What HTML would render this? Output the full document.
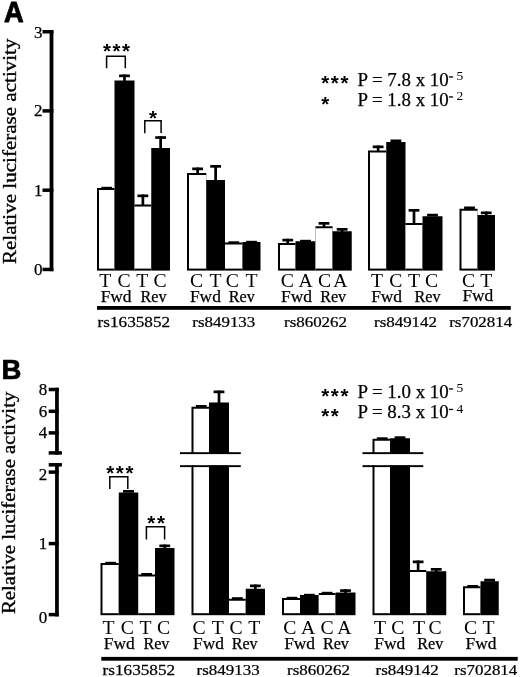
<!DOCTYPE html>
<html><head><meta charset="utf-8"><title>Figure</title>
<style>html,body{margin:0;padding:0;background:#fff}svg{display:block;will-change:transform}text{fill:#000}.se{font-family:"Liberation Serif",serif}.sa{font-family:"Liberation Sans",sans-serif}.bd{stroke:#000;stroke-width:0.25px}</style></head><body>
<svg width="520" height="677" viewBox="0 0 520 677">
<defs><filter id="soft" x="0" y="0" width="520" height="677" filterUnits="userSpaceOnUse"><feGaussianBlur stdDeviation="0.45"/></filter></defs>
<rect width="520" height="677" fill="#fff"/>
<g filter="url(#soft)">
<rect width="520" height="677" fill="#fff"/>
<text class="sa" font-weight="bold" font-size="29.3" stroke="#000" stroke-width="0.9" stroke-linejoin="round" transform="translate(3.9 22.1) scale(0.93 1)">A</text>
<text class="sa" font-weight="bold" font-size="27.5" stroke="#000" stroke-width="0.7" stroke-linejoin="round" transform="translate(1.4 379.0) scale(1.0 1)">B</text>
<text class="se" font-size="19.4" text-anchor="middle" transform="translate(16.0 151.3) rotate(-90) scale(1.085 1)" stroke="#000" stroke-width="0.35">Relative luciferase activity</text>
<text class="se" font-size="19.4" text-anchor="middle" transform="translate(14.8 502.9) rotate(-90) scale(1.07 1)" stroke="#000" stroke-width="0.35">Relative luciferase activity</text>
<rect x="49.6" y="30" width="3.8" height="241.2" fill="#000"/>
<rect x="42.5" y="30.00" width="10.9" height="3.5" fill="#000"/>
<text x="42.4" y="38.15" class="se bd" font-size="17" text-anchor="end">3</text>
<rect x="42.5" y="109.15" width="10.9" height="3.5" fill="#000"/>
<text x="42.4" y="115.70" class="se bd" font-size="17" text-anchor="end">2</text>
<rect x="42.5" y="188.45" width="10.9" height="3.5" fill="#000"/>
<text x="42.4" y="195.80" class="se bd" font-size="17" text-anchor="end">1</text>
<rect x="42.5" y="267.70" width="10.9" height="3.5" fill="#000"/>
<text x="42.4" y="275.05" class="se bd" font-size="17" text-anchor="end">0</text>
<rect x="97.00" y="188.00" width="17.50" height="82.60" fill="#000"/>
<rect x="99.00" y="190.00" width="15.50" height="78.60" fill="#fff"/>
<rect x="114.50" y="80.50" width="20.00" height="190.10" fill="#000"/>
<rect x="134.50" y="204.50" width="16.75" height="66.10" fill="#000"/>
<rect x="134.50" y="206.50" width="16.75" height="62.10" fill="#fff"/>
<rect x="151.25" y="148.00" width="18.75" height="122.60" fill="#000"/>
<rect x="101.35" y="186.80" width="10.8" height="2.7" fill="#000"/>
<rect x="119.10" y="74.50" width="10.8" height="2.7" fill="#000"/>
<rect x="123.15" y="74.50" width="2.7" height="7.00" fill="#000"/>
<rect x="137.47" y="194.50" width="10.8" height="2.7" fill="#000"/>
<rect x="141.53" y="194.50" width="2.7" height="11.00" fill="#000"/>
<rect x="155.22" y="136.20" width="10.8" height="2.7" fill="#000"/>
<rect x="159.28" y="136.20" width="2.7" height="12.80" fill="#000"/>
<rect x="187.00" y="173.00" width="19.25" height="97.60" fill="#000"/>
<rect x="189.00" y="175.00" width="17.25" height="93.60" fill="#fff"/>
<rect x="206.25" y="180.00" width="18.75" height="90.60" fill="#000"/>
<rect x="225.00" y="242.50" width="17.50" height="28.10" fill="#000"/>
<rect x="225.00" y="244.50" width="17.50" height="24.10" fill="#fff"/>
<rect x="242.50" y="242.00" width="18.00" height="28.60" fill="#000"/>
<rect x="192.22" y="167.50" width="10.8" height="2.7" fill="#000"/>
<rect x="196.28" y="167.50" width="2.7" height="6.50" fill="#000"/>
<rect x="210.22" y="165.00" width="10.8" height="2.7" fill="#000"/>
<rect x="214.28" y="165.00" width="2.7" height="16.00" fill="#000"/>
<rect x="228.35" y="241.30" width="10.8" height="2.7" fill="#000"/>
<rect x="246.10" y="240.80" width="10.8" height="2.7" fill="#000"/>
<rect x="278.00" y="243.00" width="17.50" height="27.60" fill="#000"/>
<rect x="280.00" y="245.00" width="15.50" height="23.60" fill="#fff"/>
<rect x="295.50" y="241.25" width="20.00" height="29.35" fill="#000"/>
<rect x="315.50" y="226.25" width="17.00" height="44.35" fill="#000"/>
<rect x="315.50" y="228.25" width="17.00" height="40.35" fill="#fff"/>
<rect x="332.50" y="231.25" width="19.25" height="39.35" fill="#000"/>
<rect x="282.35" y="238.75" width="10.8" height="2.7" fill="#000"/>
<rect x="286.40" y="238.75" width="2.7" height="5.25" fill="#000"/>
<rect x="300.10" y="239.80" width="10.8" height="2.7" fill="#000"/>
<rect x="318.60" y="222.00" width="10.8" height="2.7" fill="#000"/>
<rect x="322.65" y="222.00" width="2.7" height="5.25" fill="#000"/>
<rect x="336.73" y="228.00" width="10.8" height="2.7" fill="#000"/>
<rect x="340.77" y="228.00" width="2.7" height="4.25" fill="#000"/>
<rect x="368.00" y="150.50" width="18.25" height="120.10" fill="#000"/>
<rect x="370.00" y="152.50" width="16.25" height="116.10" fill="#fff"/>
<rect x="386.25" y="142.00" width="19.25" height="128.60" fill="#000"/>
<rect x="405.50" y="223.00" width="17.00" height="47.60" fill="#000"/>
<rect x="405.50" y="225.00" width="17.00" height="43.60" fill="#fff"/>
<rect x="422.50" y="216.25" width="20.00" height="54.35" fill="#000"/>
<rect x="372.73" y="145.50" width="10.8" height="2.7" fill="#000"/>
<rect x="376.77" y="145.50" width="2.7" height="6.00" fill="#000"/>
<rect x="390.48" y="139.50" width="10.8" height="2.7" fill="#000"/>
<rect x="408.60" y="209.00" width="10.8" height="2.7" fill="#000"/>
<rect x="412.65" y="209.00" width="2.7" height="15.00" fill="#000"/>
<rect x="427.10" y="213.75" width="10.8" height="2.7" fill="#000"/>
<rect x="459.50" y="208.75" width="18.00" height="61.85" fill="#000"/>
<rect x="461.50" y="210.75" width="16.00" height="57.85" fill="#fff"/>
<rect x="477.50" y="215.00" width="17.50" height="55.60" fill="#000"/>
<rect x="464.10" y="206.50" width="10.8" height="2.7" fill="#000"/>
<rect x="480.85" y="211.50" width="10.8" height="2.7" fill="#000"/>
<rect x="484.90" y="211.50" width="2.7" height="4.50" fill="#000"/>
<rect x="55.1" y="387.8" width="3.7" height="66.8" fill="#000"/>
<rect x="55.1" y="463.1" width="3.7" height="153.3" fill="#000"/>
<rect x="48.7" y="387.75" width="10.1" height="3.5" fill="#000"/>
<text x="47.3" y="394.90" class="se bd" font-size="17" text-anchor="end">8</text>
<rect x="48.7" y="409.55" width="10.1" height="3.5" fill="#000"/>
<text x="47.3" y="416.70" class="se bd" font-size="17" text-anchor="end">6</text>
<rect x="48.7" y="431.15" width="10.1" height="3.5" fill="#000"/>
<text x="47.3" y="438.40" class="se bd" font-size="17" text-anchor="end">4</text>
<rect x="48.7" y="470.35" width="10.1" height="3.5" fill="#000"/>
<text x="47.3" y="479.60" class="se bd" font-size="17" text-anchor="end">2</text>
<rect x="48.7" y="541.85" width="10.1" height="3.5" fill="#000"/>
<text x="47.3" y="548.80" class="se bd" font-size="17" text-anchor="end">1</text>
<rect x="48.7" y="612.85" width="10.1" height="3.5" fill="#000"/>
<text x="47.3" y="622.70" class="se bd" font-size="17" text-anchor="end">0</text>
<rect x="48.7" y="451.15" width="13.2" height="3.5" fill="#000"/>
<rect x="48.7" y="463.05" width="13.2" height="3.5" fill="#000"/>
<rect x="100.50" y="563.00" width="18.25" height="52.20" fill="#000"/>
<rect x="102.50" y="565.00" width="16.25" height="48.20" fill="#fff"/>
<rect x="118.75" y="492.50" width="19.50" height="122.70" fill="#000"/>
<rect x="138.25" y="574.50" width="16.75" height="40.70" fill="#000"/>
<rect x="138.25" y="576.50" width="16.75" height="36.70" fill="#fff"/>
<rect x="155.00" y="548.00" width="19.50" height="67.20" fill="#000"/>
<rect x="105.22" y="561.80" width="10.8" height="2.7" fill="#000"/>
<rect x="123.10" y="490.00" width="10.8" height="2.7" fill="#000"/>
<rect x="141.22" y="573.00" width="10.8" height="2.7" fill="#000"/>
<rect x="159.35" y="544.50" width="10.8" height="2.7" fill="#000"/>
<rect x="163.40" y="544.50" width="2.7" height="4.50" fill="#000"/>
<rect x="191.50" y="406.75" width="17.50" height="208.45" fill="#000"/>
<rect x="193.50" y="408.75" width="15.50" height="204.45" fill="#fff"/>
<rect x="209.00" y="402.50" width="20.00" height="212.70" fill="#000"/>
<rect x="229.00" y="598.75" width="16.75" height="16.45" fill="#000"/>
<rect x="229.00" y="600.75" width="16.75" height="12.45" fill="#fff"/>
<rect x="245.75" y="588.75" width="19.25" height="26.45" fill="#000"/>
<rect x="195.85" y="405.00" width="10.8" height="2.7" fill="#000"/>
<rect x="213.60" y="390.50" width="10.8" height="2.7" fill="#000"/>
<rect x="217.65" y="390.50" width="2.7" height="13.00" fill="#000"/>
<rect x="231.97" y="597.20" width="10.8" height="2.7" fill="#000"/>
<rect x="249.97" y="584.50" width="10.8" height="2.7" fill="#000"/>
<rect x="254.03" y="584.50" width="2.7" height="5.25" fill="#000"/>
<rect x="282.00" y="598.00" width="18.00" height="17.20" fill="#000"/>
<rect x="284.00" y="600.00" width="16.00" height="13.20" fill="#fff"/>
<rect x="300.00" y="595.00" width="18.75" height="20.20" fill="#000"/>
<rect x="318.75" y="593.00" width="16.75" height="22.20" fill="#000"/>
<rect x="318.75" y="595.00" width="16.75" height="18.20" fill="#fff"/>
<rect x="335.50" y="592.50" width="20.00" height="22.70" fill="#000"/>
<rect x="286.60" y="596.80" width="10.8" height="2.7" fill="#000"/>
<rect x="303.98" y="593.80" width="10.8" height="2.7" fill="#000"/>
<rect x="321.73" y="591.80" width="10.8" height="2.7" fill="#000"/>
<rect x="340.10" y="589.25" width="10.8" height="2.7" fill="#000"/>
<rect x="344.15" y="589.25" width="2.7" height="4.25" fill="#000"/>
<rect x="372.50" y="438.75" width="17.50" height="176.45" fill="#000"/>
<rect x="374.50" y="440.75" width="15.50" height="172.45" fill="#fff"/>
<rect x="390.00" y="438.25" width="20.00" height="176.95" fill="#000"/>
<rect x="410.00" y="570.00" width="16.25" height="45.20" fill="#000"/>
<rect x="410.00" y="572.00" width="16.25" height="41.20" fill="#fff"/>
<rect x="426.25" y="571.25" width="20.00" height="43.95" fill="#000"/>
<rect x="376.85" y="437.30" width="10.8" height="2.7" fill="#000"/>
<rect x="394.60" y="436.25" width="10.8" height="2.7" fill="#000"/>
<rect x="412.73" y="560.50" width="10.8" height="2.7" fill="#000"/>
<rect x="416.77" y="560.50" width="2.7" height="10.50" fill="#000"/>
<rect x="430.85" y="568.00" width="10.8" height="2.7" fill="#000"/>
<rect x="434.90" y="568.00" width="2.7" height="4.25" fill="#000"/>
<rect x="463.00" y="586.25" width="17.50" height="28.95" fill="#000"/>
<rect x="465.00" y="588.25" width="15.50" height="24.95" fill="#fff"/>
<rect x="480.50" y="581.25" width="18.25" height="33.95" fill="#000"/>
<rect x="467.35" y="585.00" width="10.8" height="2.7" fill="#000"/>
<rect x="484.23" y="578.75" width="10.8" height="2.7" fill="#000"/>
<rect x="180" y="454" width="60.80" height="11.4" fill="#fff"/>
<rect x="180" y="452.2" width="60.80" height="1.9" fill="#000"/>
<rect x="180" y="465.2" width="60.80" height="1.9" fill="#000"/>
<rect x="362.5" y="454" width="60.80" height="11.4" fill="#fff"/>
<rect x="362.5" y="452.2" width="60.80" height="1.9" fill="#000"/>
<rect x="362.5" y="465.2" width="60.80" height="1.9" fill="#000"/>
<text class="se" font-size="18.1" text-anchor="middle" transform="translate(105.25 286.6) scale(1.09 1)">T</text>
<text class="se" font-size="18.1" text-anchor="middle" transform="translate(124.00 286.6) scale(1.09 1)">C</text>
<text class="se" font-size="18.1" text-anchor="middle" transform="translate(142.38 286.6) scale(1.09 1)">T</text>
<text class="se" font-size="18.1" text-anchor="middle" transform="translate(160.12 286.6) scale(1.09 1)">C</text>
<text x="116.10" y="301.9" class="se bd" font-size="17.4" text-anchor="middle">Fwd</text>
<text x="153.60" y="301.9" class="se bd" font-size="17.2" text-anchor="middle" textLength="26" lengthAdjust="spacingAndGlyphs">Rev</text>
<text class="se" font-size="18.1" text-anchor="middle" transform="translate(196.62 286.6) scale(1.09 1)">C</text>
<text class="se" font-size="18.1" text-anchor="middle" transform="translate(215.62 286.6) scale(1.09 1)">T</text>
<text class="se" font-size="18.1" text-anchor="middle" transform="translate(232.25 286.6) scale(1.09 1)">C</text>
<text class="se" font-size="18.1" text-anchor="middle" transform="translate(251.50 286.6) scale(1.09 1)">T</text>
<text x="205.40" y="301.9" class="se bd" font-size="17.4" text-anchor="middle">Fwd</text>
<text x="241.85" y="301.9" class="se bd" font-size="17.2" text-anchor="middle" textLength="26" lengthAdjust="spacingAndGlyphs">Rev</text>
<text class="se" font-size="18.1" text-anchor="middle" transform="translate(287.45 286.6) scale(1.09 1)">C</text>
<text class="se" font-size="18.1" text-anchor="middle" transform="translate(305.50 286.6) scale(1.09 1)">A</text>
<text class="se" font-size="18.1" text-anchor="middle" transform="translate(324.70 286.6) scale(1.09 1)">C</text>
<text class="se" font-size="18.1" text-anchor="middle" transform="translate(340.43 286.6) scale(1.09 1)">A</text>
<text x="296.50" y="301.9" class="se bd" font-size="17.4" text-anchor="middle">Fwd</text>
<text x="333.15" y="301.9" class="se bd" font-size="17.2" text-anchor="middle" textLength="26" lengthAdjust="spacingAndGlyphs">Rev</text>
<text class="se" font-size="18.1" text-anchor="middle" transform="translate(377.12 286.6) scale(1.09 1)">T</text>
<text class="se" font-size="18.1" text-anchor="middle" transform="translate(395.88 286.6) scale(1.09 1)">C</text>
<text class="se" font-size="18.1" text-anchor="middle" transform="translate(414.00 286.6) scale(1.09 1)">T</text>
<text class="se" font-size="18.1" text-anchor="middle" transform="translate(431.60 286.6) scale(1.09 1)">C</text>
<text x="386.60" y="301.9" class="se bd" font-size="17.4" text-anchor="middle">Fwd</text>
<text x="427.50" y="301.9" class="se bd" font-size="17.2" text-anchor="middle" textLength="26" lengthAdjust="spacingAndGlyphs">Rev</text>
<text class="se" font-size="18.1" text-anchor="middle" transform="translate(468.50 286.6) scale(1.09 1)">C</text>
<text class="se" font-size="18.1" text-anchor="middle" transform="translate(486.25 286.6) scale(1.09 1)">T</text>
<text x="477.85" y="301.2" class="se bd" font-size="17.4" text-anchor="middle">Fwd</text>
<rect x="97" y="306.0" width="413.8" height="3.8" fill="#000"/>
<text class="se bd" font-size="15.4" transform="translate(97.6 326.5) scale(1.115 1)">rs1635852</text>
<text class="se bd" font-size="15.4" transform="translate(192.3 326.5) scale(1.1 1)">rs849133</text>
<text class="se bd" font-size="15.4" transform="translate(284 326.5) scale(1.1 1)">rs860262</text>
<text class="se bd" font-size="15.4" transform="translate(374 326.5) scale(1.1 1)">rs849142</text>
<text class="se bd" font-size="15.4" transform="translate(449.2 326.5) scale(1.1 1)">rs702814</text>
<text class="se" font-size="18.1" text-anchor="middle" transform="translate(108.42 633.8) scale(1.09 1)">T</text>
<text class="se" font-size="18.1" text-anchor="middle" transform="translate(127.30 633.8) scale(1.09 1)">C</text>
<text class="se" font-size="18.1" text-anchor="middle" transform="translate(145.43 633.8) scale(1.09 1)">T</text>
<text class="se" font-size="18.1" text-anchor="middle" transform="translate(163.55 633.8) scale(1.09 1)">C</text>
<text x="119.20" y="648.8" class="se bd" font-size="17.4" text-anchor="middle">Fwd</text>
<text x="156.40" y="648.8" class="se bd" font-size="17.2" text-anchor="middle" textLength="26" lengthAdjust="spacingAndGlyphs">Rev</text>
<text class="se" font-size="18.1" text-anchor="middle" transform="translate(199.05 633.8) scale(1.09 1)">C</text>
<text class="se" font-size="18.1" text-anchor="middle" transform="translate(217.80 633.8) scale(1.09 1)">T</text>
<text class="se" font-size="18.1" text-anchor="middle" transform="translate(236.18 633.8) scale(1.09 1)">C</text>
<text class="se" font-size="18.1" text-anchor="middle" transform="translate(254.18 633.8) scale(1.09 1)">T</text>
<text x="208.50" y="648.8" class="se bd" font-size="17.4" text-anchor="middle">Fwd</text>
<text x="244.65" y="648.8" class="se bd" font-size="17.2" text-anchor="middle" textLength="26" lengthAdjust="spacingAndGlyphs">Rev</text>
<text class="se" font-size="18.1" text-anchor="middle" transform="translate(289.80 633.8) scale(1.09 1)">C</text>
<text class="se" font-size="18.1" text-anchor="middle" transform="translate(308.18 633.8) scale(1.09 1)">A</text>
<text class="se" font-size="18.1" text-anchor="middle" transform="translate(327.12 633.8) scale(1.09 1)">C</text>
<text class="se" font-size="18.1" text-anchor="middle" transform="translate(344.30 633.8) scale(1.09 1)">A</text>
<text x="299.60" y="648.8" class="se bd" font-size="17.4" text-anchor="middle">Fwd</text>
<text x="335.95" y="648.8" class="se bd" font-size="17.2" text-anchor="middle" textLength="26" lengthAdjust="spacingAndGlyphs">Rev</text>
<text class="se" font-size="18.1" text-anchor="middle" transform="translate(380.05 633.8) scale(1.09 1)">T</text>
<text class="se" font-size="18.1" text-anchor="middle" transform="translate(397.90 633.8) scale(1.09 1)">C</text>
<text class="se" font-size="18.1" text-anchor="middle" transform="translate(419.12 633.8) scale(1.09 1)">T</text>
<text class="se" font-size="18.1" text-anchor="middle" transform="translate(435.05 633.8) scale(1.09 1)">C</text>
<text x="389.70" y="648.8" class="se bd" font-size="17.4" text-anchor="middle">Fwd</text>
<text x="430.30" y="648.8" class="se bd" font-size="17.2" text-anchor="middle" textLength="26" lengthAdjust="spacingAndGlyphs">Rev</text>
<text class="se" font-size="18.1" text-anchor="middle" transform="translate(470.55 633.8) scale(1.09 1)">C</text>
<text class="se" font-size="18.1" text-anchor="middle" transform="translate(488.43 633.8) scale(1.09 1)">T</text>
<text x="480.95" y="648.8" class="se bd" font-size="17.4" text-anchor="middle">Fwd</text>
<rect x="101.3" y="656.9" width="416.40000000000003" height="3.8" fill="#000"/>
<text class="se bd" font-size="15.4" transform="translate(102.6 675.2) scale(1.115 1)">rs1635852</text>
<text class="se bd" font-size="15.4" transform="translate(196.6 675.2) scale(1.1 1)">rs849133</text>
<text class="se bd" font-size="15.4" transform="translate(287 675.2) scale(1.1 1)">rs860262</text>
<text class="se bd" font-size="15.4" transform="translate(375.6 675.2) scale(1.1 1)">rs849142</text>
<text class="se bd" font-size="15.4" transform="translate(454.3 675.2) scale(1.1 1)">rs702814</text>
<path d="M106.6 68.3 V56.2 H125.3 V68.3" fill="none" stroke="#000" stroke-width="1.5"/>
<text x="106.90" y="58.40" class="sa" font-weight="bold" font-size="20.5" text-anchor="middle">*</text>
<text x="116.50" y="58.40" class="sa" font-weight="bold" font-size="20.5" text-anchor="middle">*</text>
<text x="126.10" y="58.40" class="sa" font-weight="bold" font-size="20.5" text-anchor="middle">*</text>
<path d="M144.8 133.3 V120.8 H161.1 V132.9" fill="none" stroke="#000" stroke-width="1.5"/>
<text x="153.10" y="125.40" class="sa" font-weight="bold" font-size="20.5" text-anchor="middle">*</text>
<path d="M109.8 488.9 V476.7 H127.8 V488.9" fill="none" stroke="#000" stroke-width="1.5"/>
<text x="110.20" y="480.40" class="sa" font-weight="bold" font-size="20.5" text-anchor="middle">*</text>
<text x="119.80" y="480.40" class="sa" font-weight="bold" font-size="20.5" text-anchor="middle">*</text>
<text x="129.40" y="480.40" class="sa" font-weight="bold" font-size="20.5" text-anchor="middle">*</text>
<path d="M146.4 539.5 V526.8 H164.6 V539.5" fill="none" stroke="#000" stroke-width="1.5"/>
<text x="151.30" y="530.00" class="sa" font-weight="bold" font-size="20.5" text-anchor="middle">*</text>
<text x="160.90" y="530.00" class="sa" font-weight="bold" font-size="20.5" text-anchor="middle">*</text>
<text x="325.20" y="90.45" class="sa" font-weight="bold" font-size="20.5" text-anchor="middle">*</text>
<text x="334.80" y="90.45" class="sa" font-weight="bold" font-size="20.5" text-anchor="middle">*</text>
<text x="344.40" y="90.45" class="sa" font-weight="bold" font-size="20.5" text-anchor="middle">*</text>
<text x="357.4" y="85.8" class="se bd" font-size="18.9">P = 7.8 x 10</text>
<rect x="448.9" y="76.30" width="4.2" height="1.3" fill="#000"/>
<text x="456.5" y="80.00" class="se" font-size="13.5">5</text>
<text x="325.20" y="111.30" class="sa" font-weight="bold" font-size="20.5" text-anchor="middle">*</text>
<text x="357.4" y="105.8" class="se bd" font-size="18.9">P = 1.8 x 10</text>
<rect x="448.9" y="96.30" width="4.2" height="1.3" fill="#000"/>
<text x="456.5" y="100.00" class="se" font-size="13.5">2</text>
<text x="325.20" y="403.00" class="sa" font-weight="bold" font-size="20.5" text-anchor="middle">*</text>
<text x="334.80" y="403.00" class="sa" font-weight="bold" font-size="20.5" text-anchor="middle">*</text>
<text x="344.40" y="403.00" class="sa" font-weight="bold" font-size="20.5" text-anchor="middle">*</text>
<text x="357.4" y="397.8" class="se bd" font-size="18.9">P = 1.0 x 10</text>
<rect x="448.9" y="388.30" width="4.2" height="1.3" fill="#000"/>
<text x="456.5" y="392.00" class="se" font-size="13.5">5</text>
<text x="325.20" y="423.20" class="sa" font-weight="bold" font-size="20.5" text-anchor="middle">*</text>
<text x="334.80" y="423.20" class="sa" font-weight="bold" font-size="20.5" text-anchor="middle">*</text>
<text x="357.4" y="418.3" class="se bd" font-size="18.9">P = 8.3 x 10</text>
<rect x="448.9" y="408.80" width="4.2" height="1.3" fill="#000"/>
<text x="456.5" y="412.50" class="se" font-size="13.5">4</text>
</g></svg></body></html>
